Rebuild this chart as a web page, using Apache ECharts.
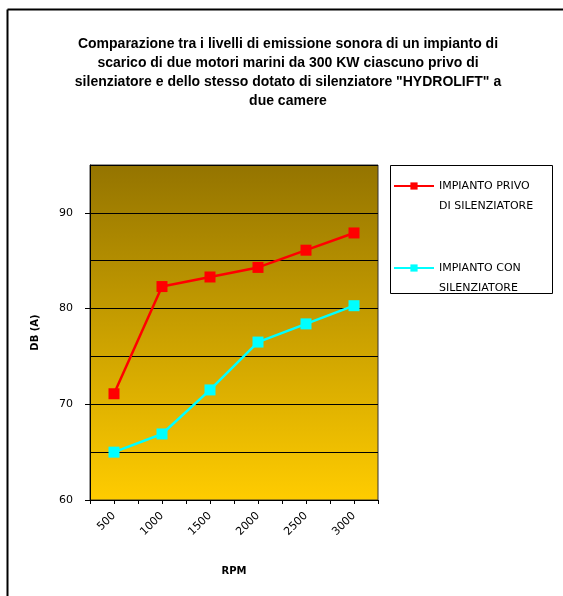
<!DOCTYPE html>
<html>
<head>
<meta charset="utf-8">
<script src="https://cdn.jsdelivr.net/npm/echarts@6/dist/echarts.min.js"></script>
<style>
  html, body { margin: 0; padding: 0; background: #fff; }
  #chart { width: 563px; height: 596px; }
</style>
</head>
<body>
<div id="chart"></div>
<script>
// dati
const rpm = [500, 1000, 1500, 2000, 2500, 3000];
const senzaSilenziatore = [71.1, 82.3, 83.3, 84.3, 86.1, 87.9];
const conSilenziatore = [65.0, 66.9, 71.5, 76.5, 78.4, 80.3];
const yLabels = [60, 70, 80, 90];
const seriesNames = ['Impianto privo di silenziatore', 'Impianto con silenziatore'];
const legendLabels = ['IMPIANTO PRIVO\nDI SILENZIATORE', 'IMPIANTO CON\nSILENZIATORE'];

const pairs = (ys) => rpm.map((x, i) => [x, ys[i]]);
const legendFont = 'DejaVu Sans';

const chart = echarts.init(document.getElementById('chart'));
chart.setOption({
  animation: false,
  title: {
    text: 'Comparazione tra i livelli di emissione sonora di un impianto di\nscarico di due motori marini da 300 KW ciascuno privo di\nsilenziatore e dello stesso dotato di silenziatore "HYDROLIFT" a\ndue camere',
    left: 288,
    top: 35,
    padding: 0,
    textAlign: 'center',
    textStyle: {
      fontFamily: 'Liberation Sans',
      fontSize: 14,
      fontWeight: 'bold',
      lineHeight: 19,
      color: '#000'
    }
  },
  legend: {
    orient: 'vertical',
    left: 393,
    top: 156,
    padding: 0,
    itemWidth: 40,
    itemHeight: 9,
    itemGap: 22,
    data: seriesNames,
    // riga vuota iniziale: l'icona resta allineata alla prima riga
    formatter: (name) => '\n' + legendLabels[seriesNames.indexOf(name)],
    textStyle: {
      fontFamily: legendFont,
      fontSize: 11,
      lineHeight: 20,
      color: '#000'
    }
  },
  grid: {
    left: 90,
    right: 185,
    top: 165,
    bottom: 96,
    outerBoundsMode: 'none',
    show: true,
    borderColor: '#333',
    borderWidth: 1,
    backgroundColor: new echarts.graphic.LinearGradient(0, 0, 0, 1, [
      { offset: 0, color: '#947400' },
      { offset: 1, color: '#ffcc00' }
    ])
  },
  xAxis: {
    type: 'value',
    min: 250,
    max: 3250,
    interval: 250,
    name: 'RPM',
    nameLocation: 'middle',
    nameGap: 66,
    nameTextStyle: { fontFamily: legendFont, fontSize: 10, fontWeight: 'bold', color: '#000' },
    axisLine: { lineStyle: { color: '#000', width: 1 } },
    axisTick: { show: true, length: 4, lineStyle: { color: '#000' } },
    axisLabel: {
      customValues: rpm,
      formatter: (v) => String(v),
      rotate: 45,
      margin: 14,
      fontFamily: legendFont,
      fontSize: 11,
      color: '#000'
    },
    splitLine: { show: false }
  },
  yAxis: [
    {
      type: 'value',
      min: 60,
      max: 95,
      interval: 5,
      name: 'DB (A)',
      nameLocation: 'middle',
      nameRotate: 90,
      nameGap: 50,
      nameTextStyle: { fontFamily: legendFont, fontSize: 10, fontWeight: 'bold', color: '#000' },
      axisLine: { show: true, lineStyle: { color: '#000', width: 1 } },
      axisTick: { show: true, customValues: yLabels, length: 5, lineStyle: { color: '#000' } },
      axisLabel: {
        customValues: yLabels,
        margin: 17,
        fontFamily: legendFont,
        fontSize: 11,
        color: '#000'
      },
      splitLine: { show: false }
    },
    {
      // solo griglia ogni 5 dB
      type: 'value',
      position: 'left',
      min: 60,
      max: 95,
      interval: 5,
      axisLine: { show: false },
      axisTick: { show: false },
      axisLabel: { show: false },
      splitLine: { show: true, lineStyle: { color: '#000', width: 1 } }
    }
  ],
  series: [
    {
      name: seriesNames[0],
      type: 'line',
      data: pairs(senzaSilenziatore),
      symbol: 'rect',
      symbolSize: 11,
      itemStyle: { color: '#ff0000' },
      lineStyle: { color: '#ff0000', width: 2.5 },
      z: 3
    },
    {
      name: seriesNames[1],
      type: 'line',
      data: pairs(conSilenziatore),
      symbol: 'rect',
      symbolSize: 11,
      itemStyle: { color: '#00ffff' },
      lineStyle: { color: '#00ffff', width: 2.5 },
      z: 3
    }
  ],
  graphic: [
    // cornice del grafico
    { type: 'line', shape: { x1: 7.5, y1: 9.5, x2: 563, y2: 9.5 }, style: { stroke: '#000', lineWidth: 2 } },
    { type: 'line', shape: { x1: 7.5, y1: 9.5, x2: 7.5, y2: 596 }, style: { stroke: '#000', lineWidth: 2 } },
    // riquadro della legenda
    { type: 'rect', shape: { x: 390.5, y: 165.5, width: 162, height: 128 }, style: { fill: 'none', stroke: '#000', lineWidth: 1 }, z: -1 }
  ]
});
</script>
</body>
</html>
